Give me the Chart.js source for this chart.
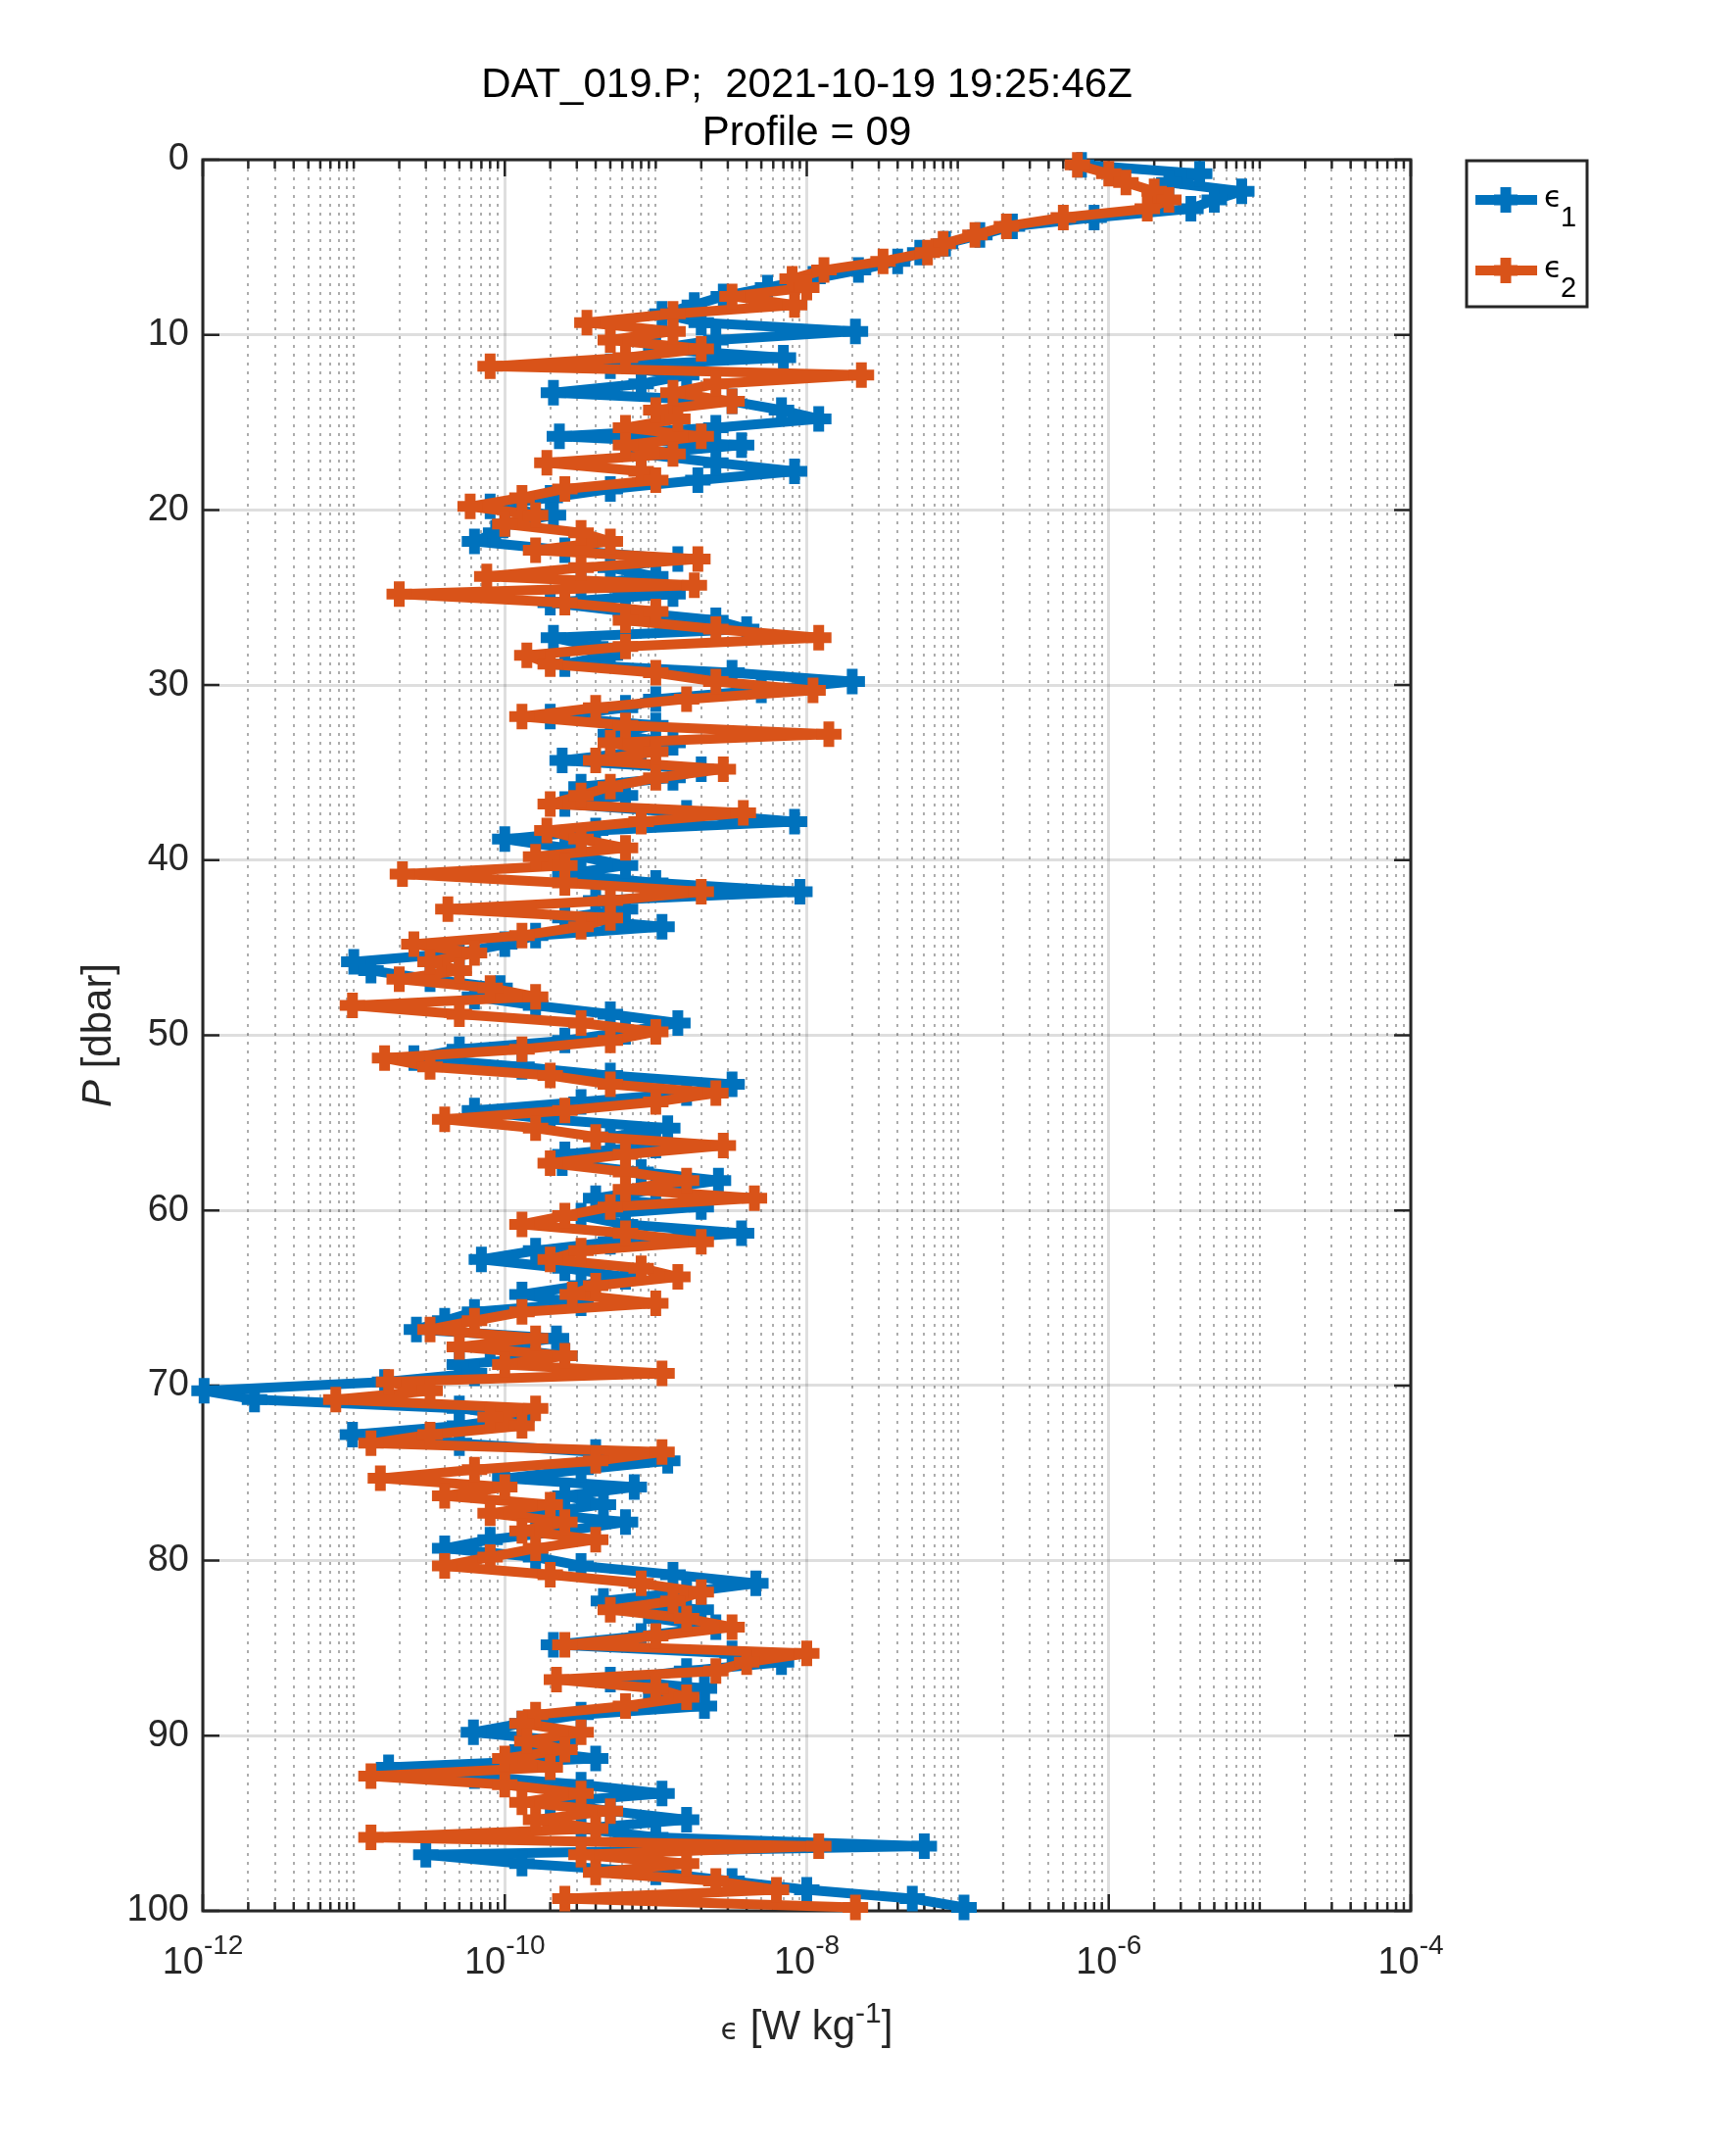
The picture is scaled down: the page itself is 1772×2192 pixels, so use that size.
<!DOCTYPE html>
<html lang="en">
<head>
    <meta charset="UTF-8">
    <title>DAT_019.P dissipation profile</title>
    <script src="https://cdn.jsdelivr.net/npm/chart.js"></script>
    <style>
        body { margin: 0; background: #fff; }
        canvas { display: block; }
    </style>
</head>
<body>
    <canvas id="epsChart" width="1772" height="2192"></canvas>
    <script>
        // Pressure of each estimate [dbar]
        const pressure = [
            0.3, 0.8, 1.3, 1.8, 2.3, 2.8, 3.3, 3.8, 4.3, 4.8,
            5.3, 5.8, 6.3, 6.8, 7.3, 7.8, 8.3, 8.8, 9.3, 9.8,
            10.3, 10.8, 11.3, 11.8, 12.3, 12.8, 13.3, 13.8, 14.3, 14.8,
            15.3, 15.8, 16.3, 16.8, 17.3, 17.8, 18.3, 18.8, 19.3, 19.8,
            20.3, 20.8, 21.3, 21.8, 22.3, 22.8, 23.3, 23.8, 24.3, 24.8,
            25.3, 25.8, 26.3, 26.8, 27.3, 27.8, 28.3, 28.8, 29.3, 29.8,
            30.3, 30.8, 31.3, 31.8, 32.3, 32.8, 33.3, 33.8, 34.3, 34.8,
            35.3, 35.8, 36.3, 36.8, 37.3, 37.8, 38.3, 38.8, 39.3, 39.8,
            40.3, 40.8, 41.3, 41.8, 42.3, 42.8, 43.3, 43.8, 44.3, 44.8,
            45.3, 45.8, 46.3, 46.8, 47.3, 47.8, 48.3, 48.8, 49.3, 49.8,
            50.3, 50.8, 51.3, 51.8, 52.3, 52.8, 53.3, 53.8, 54.3, 54.8,
            55.3, 55.8, 56.3, 56.8, 57.3, 57.8, 58.3, 58.8, 59.3, 59.8,
            60.3, 60.8, 61.3, 61.8, 62.3, 62.8, 63.3, 63.8, 64.3, 64.8,
            65.3, 65.8, 66.3, 66.8, 67.3, 67.8, 68.3, 68.8, 69.3, 69.8,
            70.3, 70.8, 71.3, 71.8, 72.3, 72.8, 73.3, 73.8, 74.3, 74.8,
            75.3, 75.8, 76.3, 76.8, 77.3, 77.8, 78.3, 78.8, 79.3, 79.8,
            80.3, 80.8, 81.3, 81.8, 82.3, 82.8, 83.3, 83.8, 84.3, 84.8,
            85.3, 85.8, 86.3, 86.8, 87.3, 87.8, 88.3, 88.8, 89.3, 89.8,
            90.3, 90.8, 91.3, 91.8, 92.3, 92.8, 93.3, 93.8, 94.3, 94.8,
            95.3, 95.8, 96.3, 96.8, 97.3, 97.8, 98.3, 98.8, 99.3, 99.8
        ];

        // epsilon_1 [W/kg]
        const eps1 = [
            6.6e-7, 4.0e-6, 2.5e-6, 7.6e-6, 5.0e-6, 3.5e-6, 8.0e-7, 2.3e-7, 1.4e-7, 8.3e-8,
            5.6e-8, 4.0e-8, 2.2e-8, 1.1e-8, 5.5e-9, 2.8e-9, 1.8e-9, 1.1e-9, 2.0e-9, 2.1e-8,
            2.5e-9, 1.0e-9, 7.0e-9, 5.0e-10, 1.6e-9, 8.0e-10, 2.1e-10, 3.2e-9, 6.8e-9, 1.2e-8,
            2.5e-9, 2.3e-10, 3.7e-9, 8.0e-10, 2.5e-9, 8.3e-9, 1.9e-9, 5.0e-10, 2.0e-10, 8.0e-11,
            2.1e-10, 1.0e-10, 8.7e-11, 6.3e-11, 2.5e-10, 1.4e-9, 5.0e-10, 1.0e-9, 3.2e-10, 1.3e-9,
            2.0e-10, 6.3e-10, 2.5e-9, 4.0e-9, 2.1e-10, 4.0e-10, 5.0e-10, 2.5e-10, 3.2e-9, 2.0e-8,
            5.0e-9, 1.0e-9, 6.3e-10, 2.0e-10, 1.0e-9, 5.0e-10, 1.3e-9, 8.0e-10, 2.4e-10, 2.0e-9,
            1.3e-9, 3.2e-10, 6.3e-10, 2.5e-10, 1.6e-9, 8.3e-9, 4.0e-10, 1.0e-10, 2.5e-10, 3.2e-10,
            6.3e-10, 2.5e-10, 1.0e-9, 9.0e-9, 4.0e-10, 6.3e-10, 2.5e-10, 1.1e-9, 1.6e-10, 1.0e-10,
            5.0e-11, 1.0e-11, 1.3e-11, 3.2e-11, 9.3e-11, 6.3e-11, 1.6e-10, 5.0e-10, 1.4e-9, 6.3e-10,
            2.5e-10, 5.0e-11, 2.5e-11, 1.3e-10, 5.0e-10, 3.2e-9, 1.6e-9, 3.2e-10, 6.3e-11, 2.0e-10,
            1.2e-9, 5.0e-10, 1.0e-9, 2.5e-10, 2.4e-10, 8.0e-10, 2.6e-9, 1.0e-9, 4.0e-10, 2.0e-9,
            3.2e-10, 6.3e-10, 3.7e-9, 5.0e-10, 1.6e-10, 7.0e-11, 2.5e-10, 6.3e-10, 3.2e-10, 1.3e-10,
            3.2e-10, 6.3e-11, 4.0e-11, 2.6e-11, 2.2e-10, 8.0e-11, 2.5e-10, 5.0e-11, 6.3e-11, 1.6e-11,
            1.02e-12, 2.2e-12, 5.0e-11, 1.3e-10, 5.0e-11, 9.8e-12, 5.0e-11, 4.0e-10, 1.2e-9, 3.2e-10,
            1.0e-10, 7.2e-10, 2.5e-10, 4.5e-10, 1.6e-10, 6.3e-10, 2.5e-10, 8.0e-11, 4.0e-11, 1.6e-10,
            3.2e-10, 1.3e-9, 4.6e-9, 1.6e-9, 4.5e-10, 2.0e-9, 1.0e-9, 2.5e-9, 8.0e-10, 2.1e-10,
            3.2e-9, 6.8e-9, 1.6e-9, 5.0e-10, 2.1e-9, 1.0e-9, 2.1e-9, 3.2e-10, 1.3e-10, 6.2e-11,
            2.5e-10, 1.3e-10, 4.0e-10, 1.7e-11, 6.3e-11, 3.2e-10, 1.1e-9, 2.0e-10, 5.0e-10, 1.6e-9,
            3.2e-10, 1.0e-9, 6.0e-8, 3.0e-11, 1.3e-10, 1.0e-9, 3.2e-9, 1.0e-8, 5.0e-8, 1.1e-7
        ];

        // epsilon_2 [W/kg]
        const eps2 = [
            6.2e-7, 1.0e-6, 1.3e-6, 2.0e-6, 2.5e-6, 1.8e-6, 5.0e-7, 2.1e-7, 1.3e-7, 8.0e-8,
            6.3e-8, 3.2e-8, 1.3e-8, 8.0e-9, 1.0e-8, 3.2e-9, 8.3e-9, 1.3e-9, 3.5e-10, 1.3e-9,
            5.0e-10, 2.0e-9, 6.3e-10, 8.0e-11, 2.3e-8, 2.5e-9, 1.3e-9, 3.2e-9, 1.0e-9, 1.4e-9,
            6.3e-10, 2.0e-9, 6.3e-10, 1.3e-9, 1.9e-10, 8.0e-10, 1.0e-9, 2.5e-10, 1.3e-10, 5.9e-11,
            1.6e-10, 1.0e-10, 3.2e-10, 5.0e-10, 1.6e-10, 1.9e-9, 3.2e-10, 7.6e-11, 1.8e-9, 2.0e-11,
            2.5e-10, 1.0e-9, 6.3e-10, 2.5e-9, 1.2e-8, 6.3e-10, 1.4e-10, 2.0e-10, 1.0e-9, 2.5e-9,
            1.1e-8, 1.6e-9, 4.0e-10, 1.3e-10, 6.3e-10, 1.4e-8, 5.0e-10, 1.0e-9, 4.0e-10, 2.8e-9,
            1.0e-9, 5.0e-10, 3.2e-10, 2.0e-10, 3.8e-9, 8.0e-10, 1.9e-10, 3.2e-10, 6.3e-10, 1.6e-10,
            2.5e-10, 2.1e-11, 2.5e-10, 2.0e-9, 5.0e-10, 4.2e-11, 5.0e-10, 3.2e-10, 1.3e-10, 2.5e-11,
            6.3e-11, 3.2e-11, 5.0e-11, 2.0e-11, 8.0e-11, 1.6e-10, 9.8e-12, 5.0e-11, 3.2e-10, 1.0e-9,
            5.0e-10, 1.3e-10, 1.6e-11, 3.2e-11, 2.0e-10, 5.0e-10, 2.5e-9, 1.0e-9, 2.5e-10, 4.0e-11,
            1.6e-10, 4.0e-10, 2.8e-9, 6.3e-10, 2.0e-10, 6.3e-10, 1.6e-9, 6.3e-10, 4.5e-9, 5.0e-10,
            2.5e-10, 1.3e-10, 6.3e-10, 2.0e-9, 3.2e-10, 2.0e-10, 8.0e-10, 1.4e-9, 4.0e-10, 2.8e-10,
            1.0e-9, 1.3e-10, 6.3e-11, 3.2e-11, 1.6e-10, 5.0e-11, 2.5e-10, 1.0e-10, 1.1e-9, 1.7e-11,
            3.2e-11, 7.6e-12, 1.6e-10, 8.0e-11, 1.3e-10, 3.2e-11, 1.3e-11, 1.1e-9, 4.0e-10, 6.3e-11,
            1.5e-11, 1.0e-10, 4.0e-11, 2.0e-10, 8.0e-11, 2.5e-10, 1.3e-10, 4.0e-10, 1.6e-10, 8.0e-11,
            4.0e-11, 2.0e-10, 8.0e-10, 2.0e-9, 1.3e-9, 5.0e-10, 1.6e-9, 3.2e-9, 1.0e-9, 2.5e-10,
            1.0e-8, 4.0e-9, 2.5e-9, 2.2e-10, 1.0e-9, 1.6e-9, 6.3e-10, 1.6e-10, 1.3e-10, 3.2e-10,
            1.4e-10, 2.5e-10, 1.0e-10, 2.0e-10, 1.3e-11, 1.0e-10, 3.2e-10, 1.3e-10, 5.0e-10, 1.6e-10,
            4.0e-10, 1.3e-11, 1.2e-8, 3.2e-10, 1.6e-9, 4.0e-10, 2.5e-9, 6.3e-9, 2.5e-10, 2.1e-8
        ];

        // Axis ticks
        const xDecades = [-12, -11, -10, -9, -8, -7, -6, -5, -4];
        const xLabelExps = [-12, -10, -8, -6, -4];
        const yTicks = [0, 10, 20, 30, 40, 50, 60, 70, 80, 90, 100];

        const titleLines = ['DAT_019.P;  2021-10-19 19:25:46Z', 'Profile = 09'];
        const seriesNames = ['1', '2'];

        const BLUE = '#0072BD';
        const ORANGE = '#D95319';
        const AXIS = '#262626';
        const FONT = '"Liberation Sans", Arial, Helvetica, sans-serif';
        const EPS_FONT = '"DejaVu Sans", sans-serif';

        function isLabelled(v) {
            const e = Math.round(Math.log10(v));
            return Math.abs(v - Math.pow(10, e)) / v < 1e-6 && xLabelExps.includes(e);
        }

        // chunky '+' marker like MATLAB
        function plusMarker(ctx, x, y, color) {
            ctx.save();
            ctx.strokeStyle = color;
            ctx.lineWidth = 11;
            ctx.beginPath();
            ctx.moveTo(x - 12, y); ctx.lineTo(x + 12, y);
            ctx.moveTo(x, y - 13); ctx.lineTo(x, y + 13);
            ctx.stroke();
            ctx.restore();
        }

        // Box + inward ticks (under the data, like MATLAB layer 'bottom')
        const axesBox = {
            id: 'axesBox',
            beforeDatasetsDraw(chart) {
                const ctx = chart.ctx;
                const a = chart.chartArea;
                const xs = chart.scales.x, ys = chart.scales.y;
                ctx.save();
                ctx.strokeStyle = AXIS;
                ctx.lineWidth = 2.5;
                ctx.beginPath();
                xs.ticks.forEach(t => {
                    const px = xs.getPixelForValue(t.value);
                    const len = isLabelled(t.value) ? 17 : 9;
                    ctx.moveTo(px, a.bottom); ctx.lineTo(px, a.bottom - len);
                    ctx.moveTo(px, a.top); ctx.lineTo(px, a.top + len);
                });
                ys.ticks.forEach(t => {
                    const py = ys.getPixelForValue(t.value);
                    ctx.moveTo(a.left, py); ctx.lineTo(a.left + 17, py);
                    ctx.moveTo(a.right, py); ctx.lineTo(a.right - 17, py);
                });
                ctx.stroke();
                ctx.lineWidth = 3;
                ctx.strokeRect(a.left, a.top, a.right - a.left, a.bottom - a.top);
                ctx.restore();
            },
            afterDraw(chart) {
                const ctx = chart.ctx;
                const a = chart.chartArea;
                const xs = chart.scales.x;
                ctx.save();
                ctx.fillStyle = AXIS;
                ctx.textBaseline = 'alphabetic';
                ctx.textAlign = 'left';

                // x tick labels 10^n
                xLabelExps.forEach(e => {
                    const px = xs.getPixelForValue(Math.pow(10, e));
                    ctx.font = '38px ' + FONT;
                    const wb = ctx.measureText('10').width;
                    ctx.font = '28px ' + FONT;
                    const we = ctx.measureText(String(e)).width;
                    const x0 = px - (wb + we) / 2;
                    ctx.font = '38px ' + FONT;
                    ctx.fillText('10', x0, 2014);
                    ctx.font = '28px ' + FONT;
                    ctx.fillText(String(e), x0 + wb, 1994);
                });

                // x axis title: eps [W kg^-1]
                const parts = [
                    { t: '\u03F5', f: '30px ' + EPS_FONT, dy: 0 },
                    { t: ' [W kg', f: '42px ' + FONT, dy: 0 },
                    { t: '-1', f: '30px ' + FONT, dy: -17 },
                    { t: ']', f: '42px ' + FONT, dy: 0 }
                ];
                let total = 0;
                parts.forEach(p => { ctx.font = p.f; p.w = ctx.measureText(p.t).width; total += p.w; });
                let cx = (a.left + a.right) / 2 - total / 2;
                parts.forEach(p => {
                    ctx.font = p.f;
                    ctx.fillText(p.t, cx, 2081 + p.dy);
                    cx += p.w;
                });

                // y axis title: P [dbar]
                ctx.save();
                ctx.translate(98, (a.top + a.bottom) / 2);
                ctx.rotate(-Math.PI / 2);
                ctx.font = 'italic 42px ' + FONT;
                const wp = ctx.measureText('P').width;
                ctx.font = '42px ' + FONT;
                const wr = ctx.measureText(' [dbar]').width;
                let sx = -(wp + wr) / 2;
                ctx.font = 'italic 42px ' + FONT;
                ctx.fillText('P', sx, 15);
                ctx.font = '42px ' + FONT;
                ctx.fillText(' [dbar]', sx + wp, 15);
                ctx.restore();

                // legend
                ctx.fillStyle = '#fff';
                ctx.fillRect(1497, 164, 123, 149);
                ctx.strokeStyle = AXIS;
                ctx.lineWidth = 3;
                ctx.strokeRect(1497, 164, 123, 149);
                [BLUE, ORANGE].forEach((c, i) => {
                    const y = 204 + i * 72;
                    ctx.strokeStyle = c;
                    ctx.lineWidth = 10;
                    ctx.beginPath();
                    ctx.moveTo(1506, y); ctx.lineTo(1569, y);
                    ctx.stroke();
                    plusMarker(ctx, 1537, y, c);
                    ctx.fillStyle = '#000';
                    ctx.font = '30px ' + EPS_FONT;
                    ctx.fillText('\u03F5', 1576, y + 7);
                    ctx.font = '29px ' + FONT;
                    ctx.fillText(seriesNames[i], 1593, y + 27);
                });
                ctx.restore();
            }
        };

        const points1 = pressure.map((p, i) => ({ x: eps1[i], y: p }));
        const points2 = pressure.map((p, i) => ({ x: eps2[i], y: p }));

        const lineStyle = {
            showLine: true,
            borderWidth: 10,
            borderJoinStyle: 'round',
            borderCapStyle: 'round',
            pointStyle: 'cross',
            pointRadius: 13,
            pointBorderWidth: 11,
            pointHoverRadius: 13,
            tension: 0,
            clip: false
        };

        const config = {
            type: 'scatter',
            data: {
                datasets: [
                    Object.assign({ label: '\u03F5 1', data: points1, borderColor: BLUE, backgroundColor: BLUE, order: 1 }, lineStyle),
                    Object.assign({ label: '\u03F5 2', data: points2, borderColor: ORANGE, backgroundColor: ORANGE, order: 0 }, lineStyle)
                ]
            },
            options: {
                responsive: false,
                devicePixelRatio: 1,
                animation: false,
                events: [],
                layout: { padding: { top: 63, right: 332, bottom: 0, left: 0 } },
                scales: {
                    x: {
                        type: 'logarithmic',
                        min: 1e-12,
                        max: 1e-4,
                        afterBuildTicks(scale) {
                            const ticks = [];
                            xDecades.forEach(e => {
                                const mults = e === -4 ? [1] : [1, 2, 3, 4, 5, 6, 7, 8, 9];
                                mults.forEach(m => {
                                    const v = m * Math.pow(10, e);
                                    ticks.push({ value: v, major: isLabelled(v) });
                                });
                            });
                            scale.ticks = ticks;
                        },
                        afterFit(scale) { scale.height = 242; },
                        ticks: { display: false },
                        border: {
                            display: false,
                            dash: ctx => (ctx.tick && !ctx.tick.major) ? [3, 6] : []
                        },
                        grid: {
                            drawTicks: false,
                            color: ctx => (ctx.tick && ctx.tick.major) ? 'rgba(0,0,0,0.13)' : 'rgba(0,0,0,0.32)',
                            lineWidth: ctx => (ctx.tick && ctx.tick.major) ? 3 : 2
                        }
                    },
                    y: {
                        type: 'linear',
                        reverse: true,
                        min: 0,
                        max: 100,
                        afterBuildTicks(scale) {
                            scale.ticks = yTicks.map(v => ({ value: v }));
                        },
                        afterFit(scale) { scale.width = 207; },
                        ticks: {
                            padding: 14,
                            color: AXIS,
                            font: { family: FONT, size: 38 }
                        },
                        border: { display: false },
                        grid: {
                            drawTicks: false,
                            color: 'rgba(0,0,0,0.13)',
                            lineWidth: 3
                        }
                    }
                },
                plugins: {
                    legend: { display: false },
                    tooltip: { enabled: false },
                    title: {
                        display: true,
                        fullSize: false,
                        text: titleLines,
                        color: '#000',
                        font: { family: FONT, size: 42, weight: 'normal', lineHeight: 49 / 42 },
                        padding: { top: 0, bottom: 2 }
                    }
                }
            },
            plugins: [axesBox]
        };

        const epsChart = new Chart(document.getElementById('epsChart'), config);
    </script>
</body>
</html>
